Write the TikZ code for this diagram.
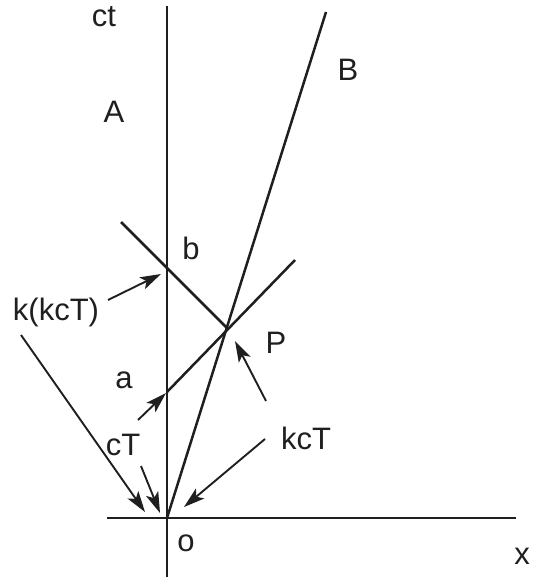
\documentclass[tikz,border=0pt]{standalone}
\usepackage{fontspec}
\setmainfont{Liberation Sans}
\usetikzlibrary{arrows.meta}
\begin{document}
\begin{tikzpicture}[x=1pt,y=-1pt,
  axisline/.style={line width=2.5pt,draw=black!88},
  ptr/.style={line width=1.9pt,draw=black!88,-{Stealth[length=21pt,width=13pt,inset=5pt]}},
  lbl/.style={font=\fontsize{31}{32}\selectfont,inner sep=0pt,text=black!88}]
\useasboundingbox (0,0) rectangle (538,577);
% key points
\coordinate (O) at (167,518);
\coordinate (P) at (227,328);
\coordinate (a) at (167,392);
\coordinate (b) at (167,266);
\coordinate (ctop) at (167,6);
\coordinate (cbot) at (167,577);
\coordinate (xl) at (107,518);
\coordinate (xr) at (516,518);
\coordinate (Btop) at (326,12);
\coordinate (rayend) at (295,260);
\coordinate (retstart) at (121,222);
% lines
\draw[axisline] (ctop) -- (cbot);
\draw[axisline] (xl) -- (xr);
\draw[axisline] (O) -- (Btop);
\draw[axisline] (a) -- (rayend);
\draw[axisline] (retstart) -- (P);
% labels
\node[lbl] (lct) at (104,17) {ct};
\node[lbl] (lA) at (114,112) {A};
\node[lbl] (lB) at (348,70) {B};
\node[lbl] (lb) at (191,248) {b};
\node[lbl] (lkk) at (56,312) {k(kcT)};
\node[lbl] (lP) at (276,343) {P};
\node[lbl] (la) at (124,380) {a};
\node[lbl] (lcT) at (123,445) {cT};
\node[lbl] (lkcT) at (306,438) {kcT};
\node[lbl] (lo) at (186,543) {o};
\node[lbl] (lx) at (522,556) {x};
% pointer arrows
\coordinate (s1) at (108,300); \coordinate (t1) at (161,274);
\coordinate (s2) at (21,335);  \coordinate (t2) at (145,512);
\coordinate (s3) at (138,420); \coordinate (t3) at (166,393);
\coordinate (s4) at (141,466); \coordinate (t4) at (160,513);
\coordinate (s5) at (266,401); \coordinate (t5) at (235,341);
\coordinate (s6) at (265,439); \coordinate (t6) at (184,507);
\draw[ptr] (s1) -- (t1);
\draw[ptr] (s2) -- (t2);
\draw[ptr] (s3) -- (t3);
\draw[ptr] (s4) -- (t4);
\draw[ptr] (s5) -- (t5);
\draw[ptr] (s6) -- (t6);
\end{tikzpicture}
\end{document}
